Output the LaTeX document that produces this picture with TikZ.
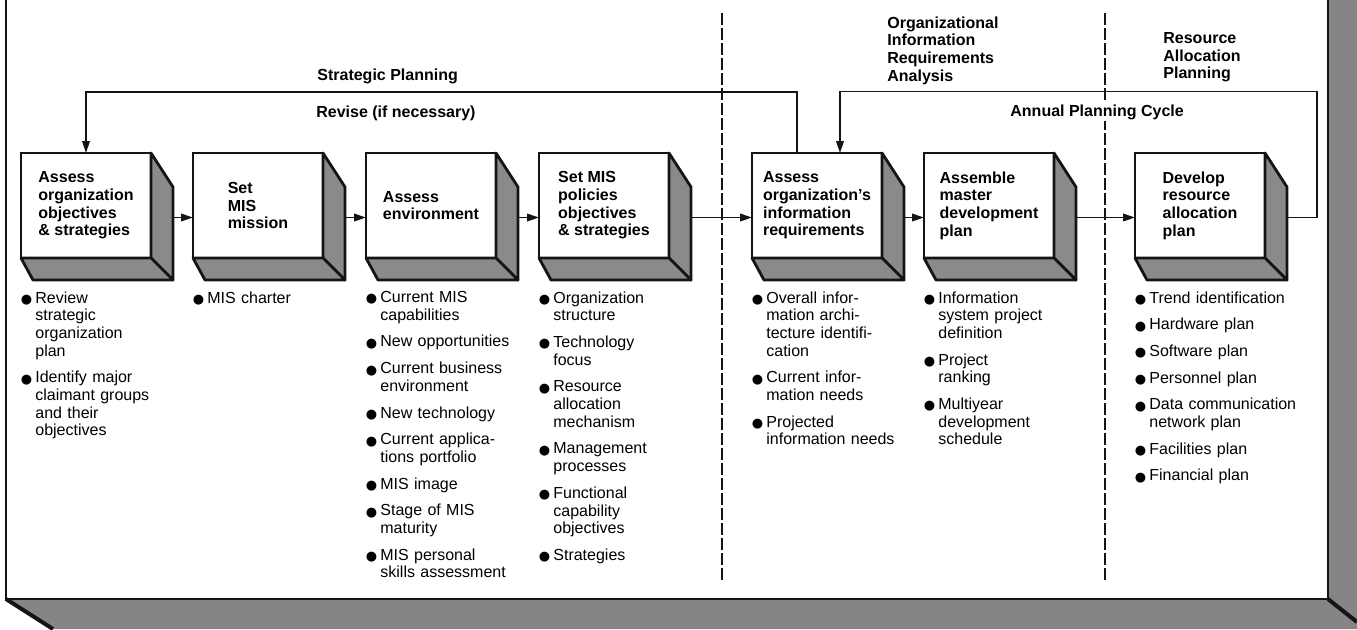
\documentclass[tikz,border=0pt]{standalone}
\usepackage{fontspec}
\setmainfont{Liberation Sans}
\newfontfamily\dotfont{DejaVu Sans}
\usetikzlibrary{arrows.meta,positioning}
\definecolor{ink}     {HTML}{141414}
\definecolor{stipple} {HTML}{8A8A8A}
\definecolor{bandgray}{HTML}{858585}
\newlength{\bulind}
\setlength{\bulind}{7pt}
\newcommand{\bulletmark}{\smash{\raisebox{-0.2pt}{\dotfont\fontsize{6.5}{6.5}\selectfont ●}}}
\newcommand{\itm}[1]{\hangindent=\bulind\hangafter=1\noindent
  \makebox[\bulind][l]{\hspace*{-0.3pt}\bulletmark}#1\par\vspace{4.5pt}}
\newcommand{\boxdepth}[1]{%
  \filldraw[sideface] (#1.north east) -- ++(22,34) -- ([shift={(22,22)}]#1.south east)
    -- (#1.south east) -- cycle;
  \filldraw[sideface] (#1.south west) -- (#1.south east) -- ++(22,22)
    -- ([shift={(12,22)}]#1.south west) -- cycle;}
\tikzset{
  stagebox/.style  ={draw=ink, fill=white, line width=1.4pt,
                     minimum width=65pt, minimum height=52.5pt,
                     inner sep=0pt, outer sep=0pt, align=left,
                     font=\fontsize{8}{8.85}\selectfont\bfseries},
  sideface/.style  ={draw=ink, fill=stipple, line width=1.4pt, line join=round},
  itemlist/.style  ={text width=95pt, inner sep=0pt, align=left,
                     font=\fontsize{8}{8.85}\selectfont},
  phaselabel/.style={inner sep=0pt, align=left,
                     font=\fontsize{8}{8.85}\selectfont\bfseries},
  flowarr/.style   ={-{Triangle[length=6pt,width=3.8pt]}, line width=0.9pt, draw=ink},
  divider/.style   ={line width=0.9pt, dash pattern=on 6pt off 1.5pt, draw=ink},
  frameline/.style ={line width=1.2pt, draw=ink},
}
\begin{document}
\begin{tikzpicture}[x=0.5pt,y=-0.5pt]
        \useasboundingbox (0,0) rectangle (1357,629);
        % frame with shaded bands
        \fill[bandgray] (6,599) -- (1328,599) -- (1328,0) -- (1357,0)
          -- (1357,629) -- (53,629) -- cycle;
        \draw[frameline] (6,0) -- (6,599) -- (1328,599) -- (1328,0);
        \draw[frameline, line width=2pt] (6,599) -- (53,629);
        \draw[frameline, line width=2pt] (1328,599) -- (1357,622);
        % phase dividers
        \draw[divider] (722,13) -- (722,580);
        \draw[divider] (1105,13) -- (1105,580);
        % stages
        \node[stagebox] (orgobj)     at (86,205.5)  {Assess\\organization\\objectives\\\& strategies};
        \node[stagebox] (mission)    at (258,205.5) {Set\\MIS\\mission};
        \node[stagebox] (environ)    at (431,205.5) {Assess\\environment};
        \node[stagebox] (policies)   at (604,205.5) {Set MIS\\policies\\objectives\\\& strategies};
        \node[stagebox] (inforeq)    at (817,205.5) {Assess\\organization's\\information\\requirements};
        \node[stagebox] (masterplan) at (989,205.5) {Assemble\\master\\development\\plan};
        \node[stagebox] (resplan)    at (1200,205.5) {Develop\\resource\\allocation\\plan};
        \foreach \b in {orgobj,mission,environ,policies,inforeq,masterplan,resplan}
          \boxdepth{\b};
        \foreach \a/\b in {orgobj/mission,mission/environ,environ/policies,policies/inforeq,
                           inforeq/masterplan,masterplan/resplan}
          \draw[flowarr] ([shift={(22,12)}]\a.east) -- ([shift={(0,12)}]\b.west);
        % feedback loops
        \draw[flowarr] ([xshift=-10pt]inforeq.north) -- ++(0,-61) -| (orgobj.north);
        \draw[flowarr] ([shift={(22,12)}]resplan.east) -- ++(30,0) -- ++(0,-126)
          -| ([xshift=11.5pt]inforeq.north);
        % phase and loop labels
        \node[phaselabel, anchor=north west] (oirahead) at (887,16)
          {Organizational\\Information\\Requirements\\Analysis};
        \node[phaselabel, anchor=north west] (rapahead) at (1163,32)
          {Resource\\Allocation\\Planning};
        \node[phaselabel, anchor=base west] (sphead)   at (317,80)  {Strategic Planning};
        \node[phaselabel, anchor=base west] (revlabel) at (316,117) {Revise (if necessary)};
        \node[phaselabel, anchor=base west, fill=white, inner sep=1pt] (cyclabel) at (1008,116)
          {Annual Planning Cycle};
        % activity lists
        \node[itemlist, below=16.5pt of orgobj.south west, anchor=north west] (orgobjlist)
          {\itm{Review\newline strategic\newline organization\newline plan}
           \itm{Identify major\newline claimant groups\newline and their\newline objectives}};
        \node[itemlist, below=16.5pt of mission.south west, anchor=north west] (missionlist)
          {\itm{MIS charter}};
        \node[itemlist, below=16.5pt of environ.south west, anchor=north west] (environlist)
          {\itm{Current MIS\newline capabilities}
           \itm{New opportunities}
           \itm{Current business\newline environment}
           \itm{New technology}
           \itm{Current applica-\newline tions portfolio}
           \itm{MIS image}
           \itm{Stage of MIS\newline maturity}
           \itm{MIS personal\newline skills assessment}};
        \node[itemlist, below=16.5pt of policies.south west, anchor=north west] (policieslist)
          {\itm{Organization\newline structure}
           \itm{Technology\newline focus}
           \itm{Resource\newline allocation\newline mechanism}
           \itm{Management\newline processes}
           \itm{Functional\newline capability\newline objectives}
           \itm{Strategies}};
        \node[itemlist, below=16.5pt of inforeq.south west, anchor=north west] (inforeqlist)
          {\itm{Overall infor-\newline mation archi-\newline tecture identifi-\newline cation}
           \itm{Current infor-\newline mation needs}
           \itm{Projected\newline information needs}};
        \node[itemlist, below=16.5pt of masterplan.south west, anchor=north west] (masterlist)
          {\itm{Information\newline system project\newline definition}
           \itm{Project\newline ranking}
           \itm{Multiyear\newline development\newline schedule}};
        \node[itemlist, below=16.5pt of resplan.south west, anchor=north west] (resplanlist)
          {\itm{Trend identification}
           \itm{Hardware plan}
           \itm{Software plan}
           \itm{Personnel plan}
           \itm{Data communication\newline network plan}
           \itm{Facilities plan}
           \itm{Financial plan}};
      \end{tikzpicture}
\end{document}
